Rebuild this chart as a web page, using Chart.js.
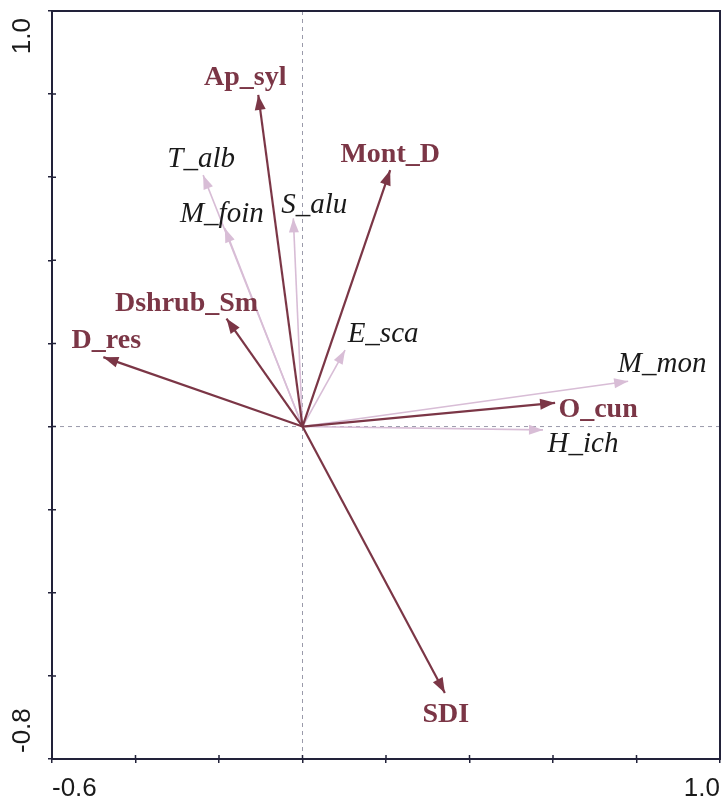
<!DOCTYPE html>
<html>
<head>
<meta charset="utf-8">
<script src="https://cdn.jsdelivr.net/npm/chart.js@4.4.1/dist/chart.umd.min.js"></script>
<style>
  html, body { margin: 0; padding: 0; background: #fff; }
  canvas { display: block; }
</style>
</head>
<body>
<canvas id="biplot" width="722" height="798"></canvas>
<script>
// Variables ambientales (flechas oscuras)
const envNames = ['Ap_syl', 'Mont_D', 'Dshrub_Sm', 'D_res', 'O_cun', 'SDI'];
const envX = [-0.106, 0.210, -0.182, -0.477, 0.605, 0.341];
const envY = [0.798, 0.617, 0.260, 0.167, 0.057, -0.641];

// Especies (flechas claras)
const sppNames = ['T_alb', 'M_foin', 'S_alu', 'E_sca', 'M_mon', 'H_ich'];
const sppX = [-0.238, -0.186, -0.022, 0.102, 0.780, 0.576];
const sppY = [0.605, 0.477, 0.501, 0.184, 0.109, -0.008];

// Etiquetas de los ejes (solo los extremos)
const xTickLabels = ['-0.6', '1.0'];
const yTickLabels = ['-0.8', '1.0'];

// Colores y desplazamientos de las etiquetas (px: centro del texto, línea base)
const envColor = '#7b3646';
const sppColor = '#d8bdd6';
const frameColor = '#22223a';
const envLabelOffset = [[-13, -10], [0, -8], [-40, -8], [3, -9], [43, 14], [1, 29]];
const sppLabelOffset = [[-2, -8], [-3, -6], [21, -5], [38, -8], [34, -9], [40, 22]];

function arrowDataset(name, x, y, color, width, kind, idx) {
    return {
        label: name,
        data: [{x: 0, y: 0}, {x: x, y: y}],
        showLine: true,
        borderColor: color,
        backgroundColor: color,
        borderWidth: width,
        pointRadius: 0,
        order: kind === 'env' ? 0 : 1,
        kind: kind,
        idx: idx
    };
}

const datasets = [];
sppNames.forEach((n, i) => datasets.push(arrowDataset(n, sppX[i], sppY[i], sppColor, 1.6, 'spp', i)));
envNames.forEach((n, i) => datasets.push(arrowDataset(n, envX[i], envY[i], envColor, 2.2, 'env', i)));

// Líneas discontinuas por el origen y marco
const framePlugin = {
    id: 'frame',
    beforeDatasetsDraw(chart) {
        const ctx = chart.ctx;
        const a = chart.chartArea;
        const x0 = chart.scales.x.getPixelForValue(0);
        const y0 = chart.scales.y.getPixelForValue(0);
        ctx.save();
        ctx.strokeStyle = '#9a9aaa';
        ctx.lineWidth = 1;
        ctx.setLineDash([4, 4]);
        ctx.beginPath();
        ctx.moveTo(x0, a.top);
        ctx.lineTo(x0, a.bottom);
        ctx.moveTo(a.left, y0);
        ctx.lineTo(a.right, y0);
        ctx.stroke();
        ctx.restore();
    },
    afterDraw(chart) {
        const ctx = chart.ctx;
        const a = chart.chartArea;
        ctx.save();
        ctx.strokeStyle = frameColor;
        ctx.lineWidth = 2;
        ctx.strokeRect(a.left, a.top, a.right - a.left, a.bottom - a.top);

        // pequeñas marcas hacia dentro, como en el original
        ctx.lineWidth = 1.5;
        ctx.beginPath();
        chart.scales.x.ticks.forEach(t => {
            const px = chart.scales.x.getPixelForValue(t.value);
            ctx.moveTo(px, a.bottom);
            ctx.lineTo(px, a.bottom - 4);
        });
        chart.scales.y.ticks.forEach(t => {
            const py = chart.scales.y.getPixelForValue(t.value);
            ctx.moveTo(a.left, py);
            ctx.lineTo(a.left + 4, py);
        });
        ctx.stroke();

        // Etiquetas del eje Y giradas
        const ys = chart.scales.y;
        ctx.fillStyle = '#1a1a1a';
        ctx.font = '26px "Liberation Sans", Arial, sans-serif';
        ctx.textBaseline = 'middle';
        ctx.translate(23, ys.getPixelForValue(ys.max) + 7);
        ctx.rotate(-Math.PI / 2);
        ctx.textAlign = 'right';
        ctx.fillText(yTickLabels[1], 0, 0);
        ctx.setTransform(1, 0, 0, 1, 0, 0);
        ctx.translate(23, ys.getPixelForValue(ys.min) - 6);
        ctx.rotate(-Math.PI / 2);
        ctx.textAlign = 'left';
        ctx.fillText(yTickLabels[0], 0, 0);
        ctx.restore();
    }
};

// Puntas de flecha y nombres
const arrowPlugin = {
    id: 'arrows',
    afterDatasetsDraw(chart) {
        const ctx = chart.ctx;
        // primero especies, luego variables ambientales encima
        ['spp', 'env'].forEach(kind => {
            chart.data.datasets.forEach((ds, i) => {
                if (ds.kind !== kind) return;
                const pts = chart.getDatasetMeta(i).data;
                const p0 = pts[0], p1 = pts[1];
                const ang = Math.atan2(p1.y - p0.y, p1.x - p0.x);
                const len = kind === 'env' ? 15 : 14;
                const half = kind === 'env' ? 5.5 : 5;
                ctx.save();
                ctx.translate(p1.x, p1.y);
                ctx.rotate(ang);
                ctx.fillStyle = ds.borderColor;
                ctx.beginPath();
                ctx.moveTo(0, 0);
                ctx.lineTo(-len, -half);
                ctx.lineTo(-len, half);
                ctx.closePath();
                ctx.fill();
                ctx.restore();
            });
        });

        chart.data.datasets.forEach((ds, i) => {
            const tip = chart.getDatasetMeta(i).data[1];
            const off = ds.kind === 'env' ? envLabelOffset[ds.idx] : sppLabelOffset[ds.idx];
            ctx.save();
            ctx.textAlign = 'center';
            ctx.textBaseline = 'alphabetic';
            if (ds.kind === 'env') {
                ctx.font = 'bold 28px "Liberation Serif", "Times New Roman", serif';
                ctx.fillStyle = envColor;
            } else {
                ctx.font = 'italic 29px "Liberation Serif", "Times New Roman", serif';
                ctx.fillStyle = '#1a1a1a';
            }
            ctx.fillText(ds.label, tip.x + off[0], tip.y + off[1]);
            ctx.restore();
        });
    }
};

const config = {
    type: 'scatter',
    data: { datasets: datasets },
    options: {
        responsive: false,
        animation: false,
        layout: { padding: { top: 11, right: 2, left: 0, bottom: 0 } },
        plugins: {
            legend: { display: false },
            tooltip: { enabled: false }
        },
        scales: {
            x: {
                type: 'linear',
                min: -0.6,
                max: 1.0,
                afterFit: s => { s.height = 39; s.paddingLeft = 0; s.paddingRight = 0; },
                grid: { drawOnChartArea: false, drawTicks: true, tickLength: 4, color: frameColor, lineWidth: 1.5 },
                border: { display: true, color: frameColor, width: 2 },
                ticks: {
                    stepSize: 0.2,
                    align: 'inner',
                    padding: 10,
                    maxRotation: 0,
                    autoSkip: false,
                    color: '#1a1a1a',
                    font: { family: '"Liberation Sans", Arial, sans-serif', size: 26 },
                    callback: (v, i, t) => i === 0 ? xTickLabels[0] : (i === t.length - 1 ? xTickLabels[1] : '')
                }
            },
            y: {
                type: 'linear',
                min: -0.8,
                max: 1.0,
                afterFit: s => { s.width = 52; s.paddingTop = 0; s.paddingBottom = 0; },
                grid: { drawOnChartArea: false, drawTicks: true, tickLength: 4, color: frameColor, lineWidth: 1.5 },
                border: { display: true, color: frameColor, width: 2 },
                ticks: {
                    stepSize: 0.2,
                    display: false
                }
            }
        }
    },
    plugins: [framePlugin, arrowPlugin]
};

const ctx = document.getElementById('biplot').getContext('2d');
new Chart(ctx, config);
</script>
</body>
</html>
